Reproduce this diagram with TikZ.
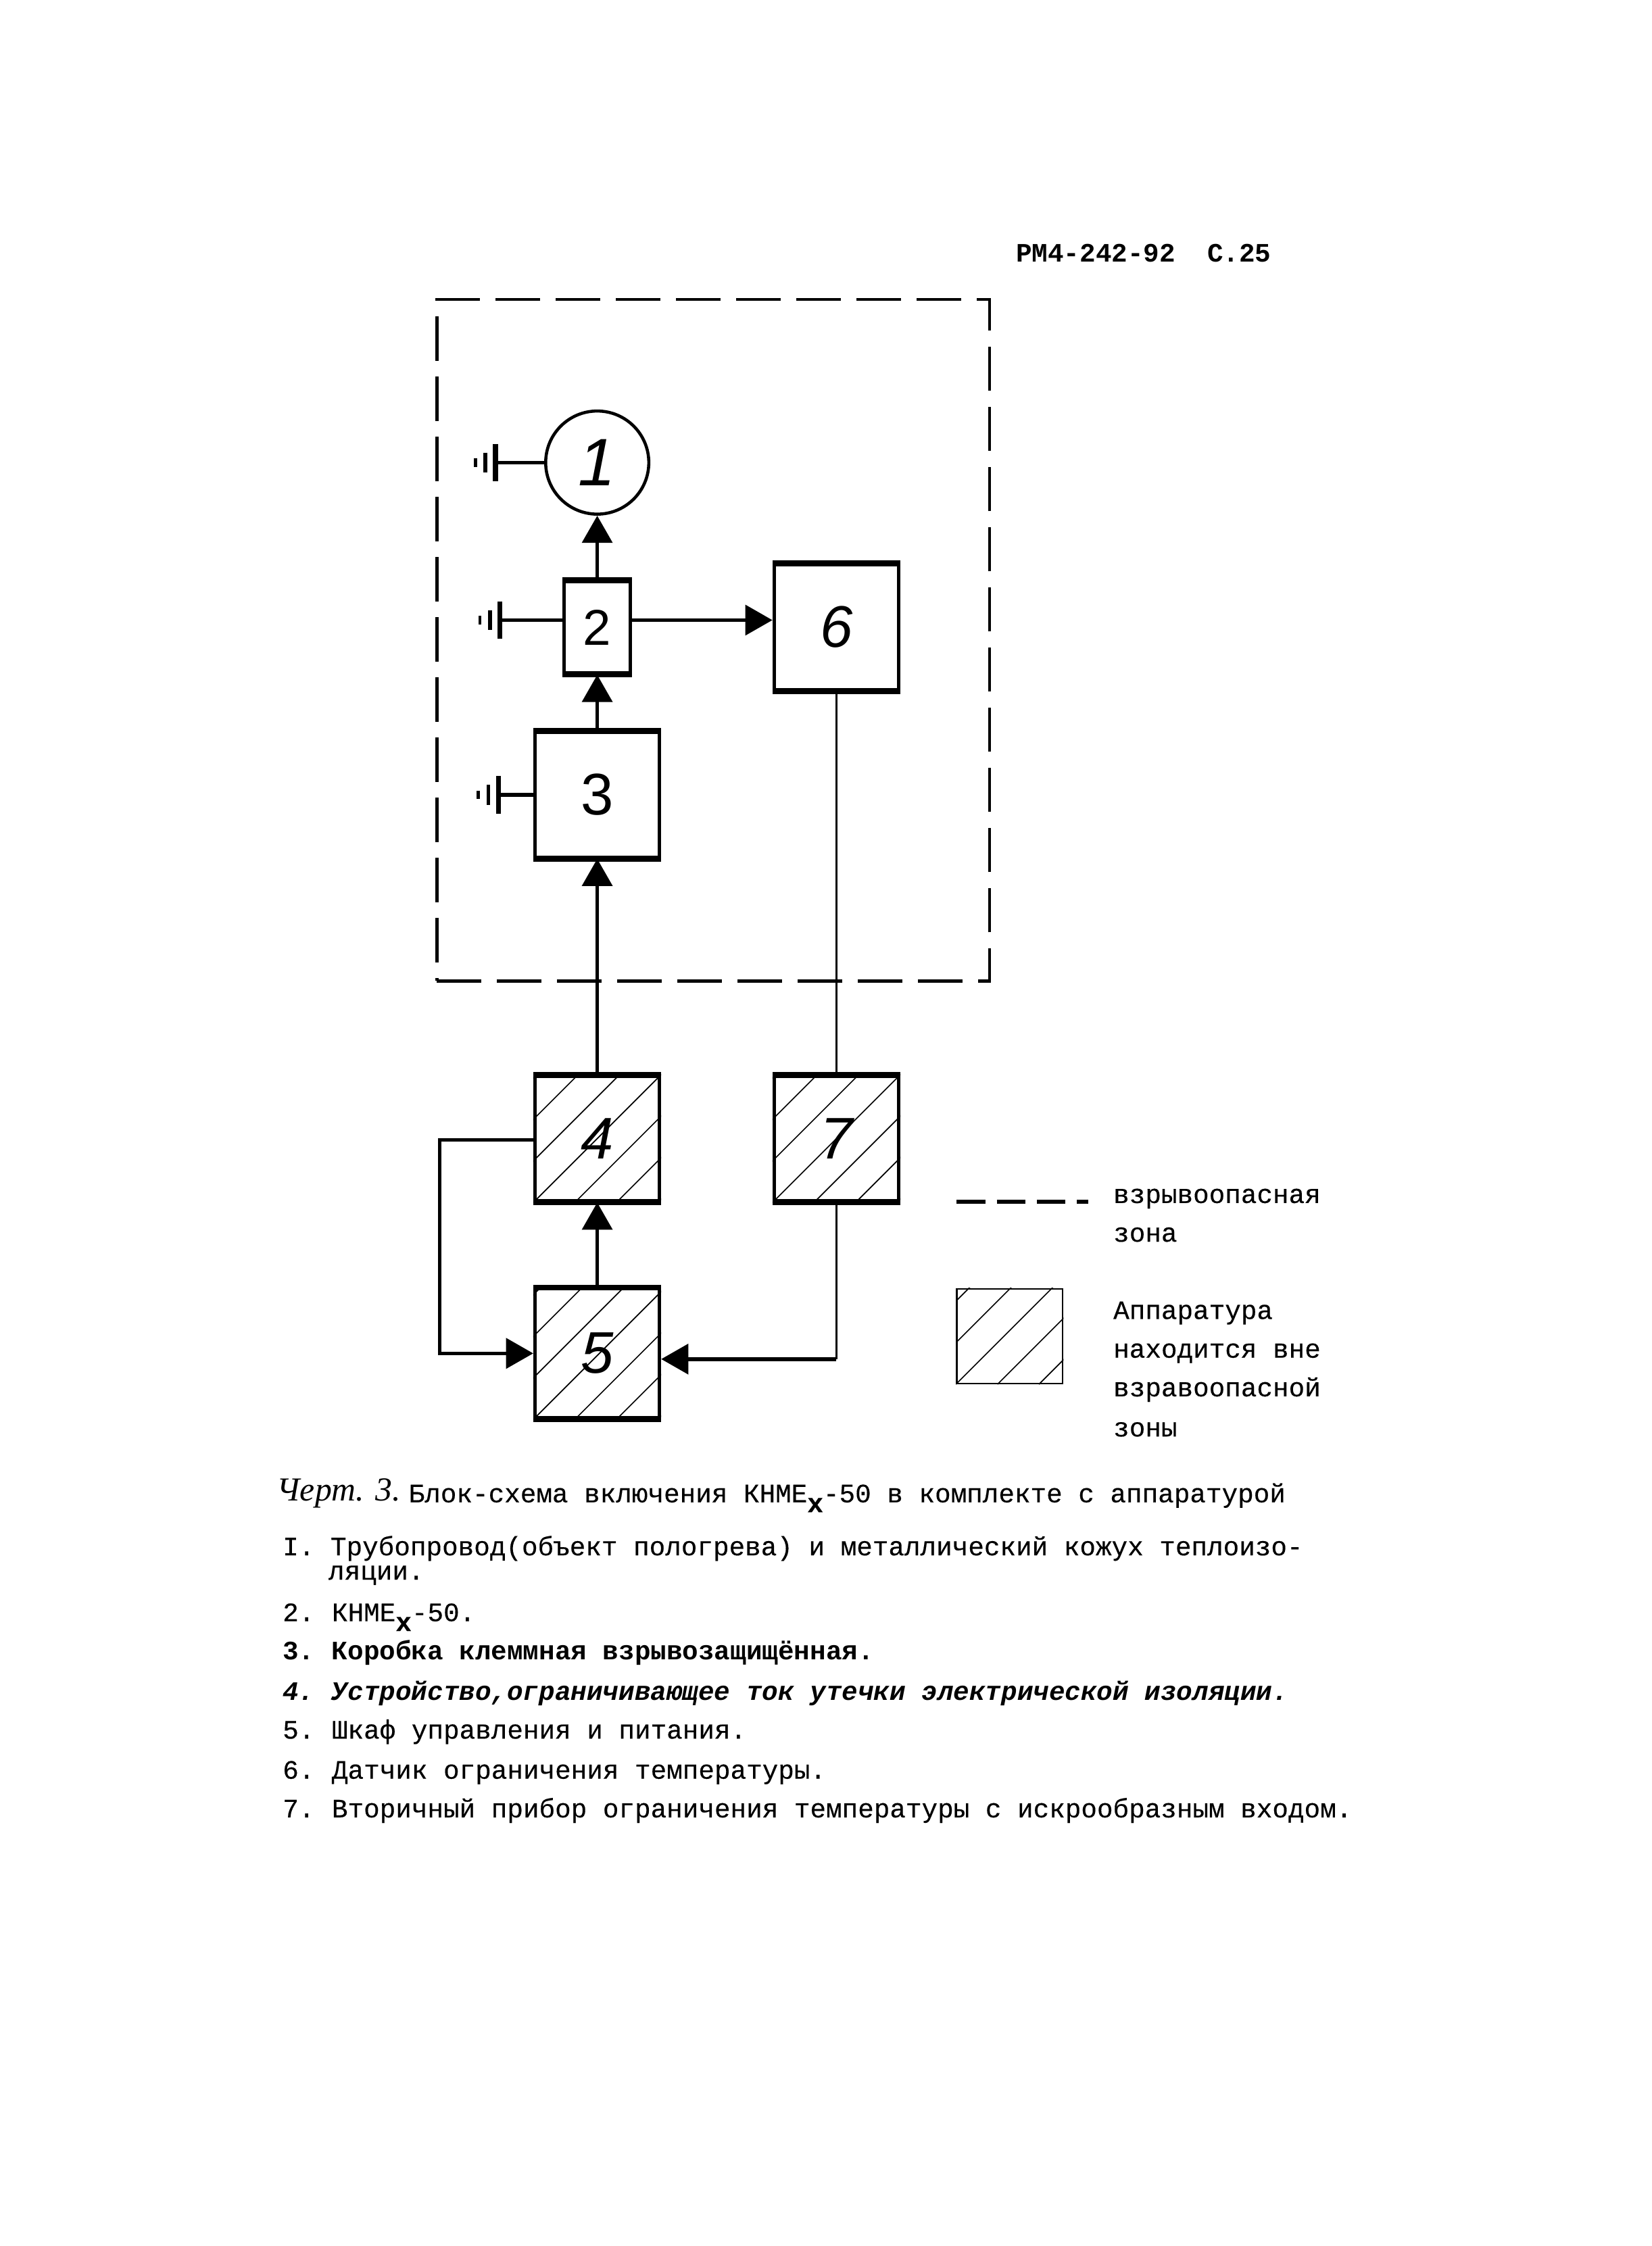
\documentclass[tikz,border=0pt]{standalone}
\usepackage{fontspec}
\usetikzlibrary{arrows.meta}
\newfontfamily\typefont[FakeBold=0.35]{Liberation Mono}
\newfontfamily\boldfont{Liberation Mono Bold}
\newfontfamily\handfont{Liberation Sans}
\newfontfamily\signfont{Liberation Serif}
\newcommand{\knme}{КНМЕ\raisebox{-0.7ex}{\bfseries x}-50}
\newcommand{\nk}{\hspace{-0.5mm}} % pull the text towards its number
\def\u{0.18mm} % one unit of the picture
\tikzset{
  box/.style={draw,line width=1.2pt,inner sep=0pt,minimum width=87*\u,minimum height=87*\u,font=\handfont\itshape\fontsize{21}{21}\selectfont},
  conn/.style={line width=1.3pt},
  wire/.style={line width=0.8pt},
  arrowed/.style={-{Triangle[length=19*\u,width=21*\u]}},
  hatch/.style={line width=0.4pt},
  zone/.style={line width=1.1pt,dash pattern=on 31*\u off 11*\u},
  txt/.style={anchor=base west,inner sep=0pt,font=\typefont\fontsize{9.5}{9.5}\selectfont},
  txtb/.style={txt,font=\boldfont\fontsize{9.5}{9.5}\selectfont},
  txti/.style={txt,font=\ttfamily\boldfont\itshape\fontsize{9.5}{9.5}\selectfont}
}
\begin{document}
\begin{tikzpicture}[x=\u,y=-\u]
\useasboundingbox (0,0) rectangle (1153,1568.3);

    % Dashed zone
    \node[draw,zone,inner sep=0pt,minimum width=386*\u,minimum height=476*\u] (danger) at (498,447) {};

    % Blocks
    \node[draw,line width=1.1pt,circle,inner sep=0pt,minimum size=72*\u,font=\handfont\itshape\fontsize{24}{24}\selectfont] (b1) at (417,323) {1};
    \node[box,minimum width=46*\u,minimum height=64*\u,font=\handfont\fontsize{18}{18}\selectfont] (b2) at (417,438) {2};
    \node[box,font=\handfont\fontsize{21}{21}\selectfont] (b3) at (417,555) {3};
    \node[box] (b6) at (584,438) {6};
    \node[box] (b4) at (417,795) {4};
    \node[box] (b7) at (584,795) {7};
    \node[box,minimum height=90*\u] (b5) at (417,945) {5};
    \node[draw,line width=0.6pt,inner sep=0pt,minimum width=74*\u,minimum height=66*\u] (leg) at (705,933) {};

    % Heavy top and bottom edges
    \foreach \b in {b2,b3,b4,b5,b6,b7} {
        \draw[line width=1.9pt] (\b.north west) -- (\b.north east);
        \draw[line width=1.9pt] (\b.south west) -- (\b.south east);
    }

    % Hatching of the outer blocks
    \foreach \b in {b4,b5,b7,leg} {
        \begin{scope}
            \clip (\b.south west) rectangle (\b.north east);
            \foreach \i in {-87,-58,-29,0,29,58,87} {
                \draw[hatch] ([xshift=\i*\u]\b.south west) -- ++(100,-100);
            }
        \end{scope}
    }

    % Earth symbols
    \foreach \g/\t/\gx/\gy in {1/b1/346/323,2/b2/349/433,3/b3/348/555} {
        \coordinate (g\g) at (\gx,\gy);
        \draw[conn] (g\g) -- (g\g -| \t.west);
        \draw[line width=1.8pt] (\gx,\gy-13) -- (\gx,\gy+13);
        \draw[line width=1.4pt] (\gx-7,\gy-7) -- (\gx-7,\gy+7);
        \draw[line width=1.1pt] (\gx-14,\gy-3) -- (\gx-14,\gy+3);
    }

    % Connectors
    \draw[conn,arrowed] (b2) -- (b1);
    \draw[conn,arrowed] (b3) -- (b2);
    \draw[conn,arrowed] (b4) -- (b3);
    \draw[conn,arrowed] (b5) -- (b4);
    \draw[conn,arrowed] (g2 -| b2.east) -- (g2 -| b6.west);
    \draw[wire] (b6) -- (b7);

    \coordinate (l4) at (307,796);
    \coordinate (l5) at (307,945);
    \draw[conn,arrowed] (l4 -| b4.west) -- (l4) -- (l5) -- (l5 -| b5.west);
    \coordinate (r5) at (584,949);
    \draw[wire] (b7) -- (r5);
    \draw[conn,arrowed] (r5) -- (r5 -| b5.east);

    % Legend
    \coordinate (d1) at (668,839);
    \coordinate (d2) at (760,839);
    \draw[line width=1.4pt,dash pattern=on 20*\u off 8*\u] (d1) -- (d2);
    \node[txt] (t1) at (777,840) {взрывоопасная};
    \node[txt] (t2) at (777,867) {зона};
    \node[txt] (t3) at (777,921) {Аппаратура};
    \node[txt] (t4) at (777,948) {находится вне};
    \node[txt] (t5) at (777,975) {взравоопасной};
    \node[txt] (t6) at (777,1003) {зоны};

    % Page head
    \node[txtb] (head) at (709,183) {РМ4-242-92~~С.25};

    % Caption
    \node[anchor=base west,inner sep=0pt,font=\signfont\itshape\fontsize{12}{12}\selectfont] (sign) at (193,1048) {Черт. 3.};
    \node[txt] (cap) at (285,1049) {Блок-схема включения \knme{} в комплекте с аппаратурой};

    % List of blocks
    \node[txt] (n1) at (197,1086) {I. Трубопровод(объект пологрева) и металлический кожух теплоизо-};
    \node[txt] (n1b) at (229,1103) {ляции.};
    \node[txt] (n2) at (197,1132) {2. \nk\knme.};
    \node[txtb] (n3) at (197,1159) {3. \nk Коробка клеммная взрывозащищённая.};
    \node[txti] (n4) at (197,1187) {4. \nk Устройство,ограничивающее ток утечки электрической изоляции.};
    \node[txt] (n5) at (197,1214) {5. \nk Шкаф управления и питания.};
    \node[txt] (n6) at (197,1242) {6. \nk Датчик ограничения температуры.};
    \node[txt] (n7) at (197,1269) {7. \nk Вторичный прибор ограничения температуры с искрообразным входом.};

\end{tikzpicture}
\end{document}
